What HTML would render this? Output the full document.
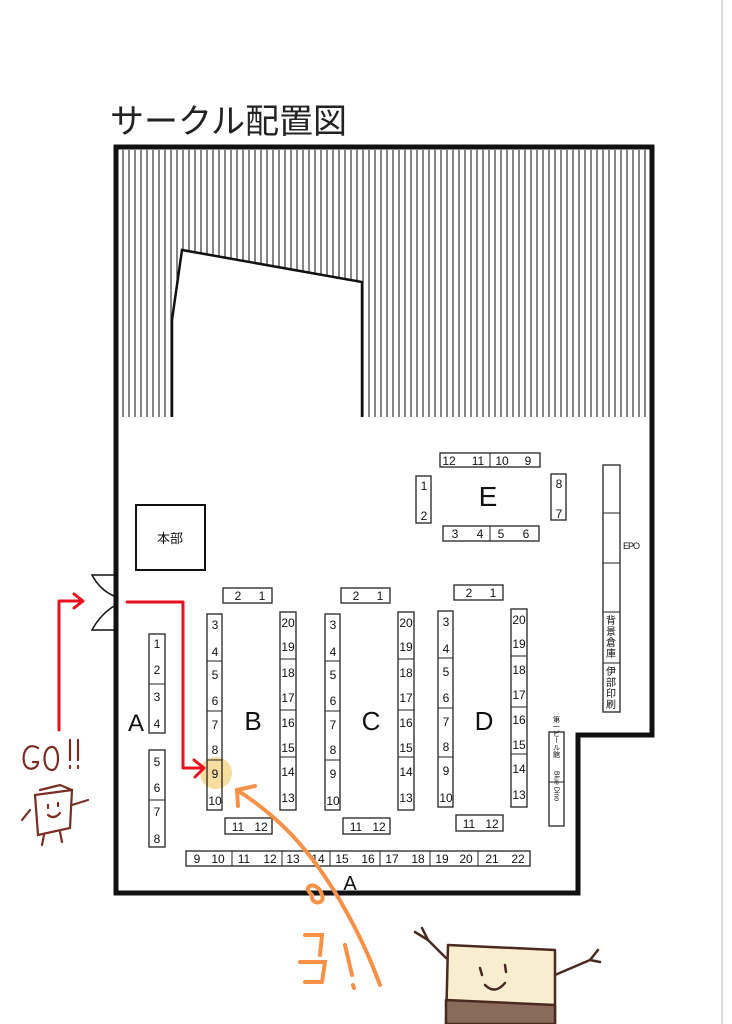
<!DOCTYPE html>
<html><head><meta charset="utf-8"><style>
html,body{margin:0;padding:0;background:#fff;width:732px;height:1024px;overflow:hidden}
svg{display:block}
text{font-family:"Liberation Sans","Noto Sans CJK JP",sans-serif;fill:#111}
.n{font-size:12px;text-anchor:middle}
.b{fill:#fff;stroke:#222;stroke-width:1.3}
</style></head><body>
<svg width="732" height="1024" viewBox="0 0 732 1024">
<defs>
<pattern id="h" width="6" height="10" patternUnits="userSpaceOnUse"><rect width="6" height="10" fill="#fff"/><line x1="3" y1="0" x2="3" y2="10" stroke="#333" stroke-width="1.2"/></pattern>
</defs>
<line x1="722" y1="0" x2="722" y2="1024" stroke="#ddd" stroke-width="2"/>
<text x="110" y="133" font-size="34" style="fill:#222">サークル配置図</text>
<path d="M118,150 H650 V417 H362 V282 L182,250 L172,320 V417 H118 Z" fill="url(#h)"/>
<path d="M172,417 V320 L182,250 L362,282 V417" fill="none" stroke="#111" stroke-width="2.5"/>
<path d="M116,147 H652 V735 H578 V893 H116 Z" fill="none" stroke="#111" stroke-width="5"/>
<path d="M114,575 H92 Q100,590 114,596 M114,630 H92 Q100,615 114,606" fill="none" stroke="#111" stroke-width="1.5"/>
<rect x="136" y="505" width="69" height="65" fill="#fff" stroke="#111" stroke-width="2"/>
<text x="170" y="543" font-size="13" text-anchor="middle">本部</text>
<rect class="b" x="440" y="453" width="100" height="14"/><line x1="490" y1="453" x2="490" y2="467" stroke="#222"/>
<text class="n" x="449" y="465">12</text><text class="n" x="478" y="465">11</text><text class="n" x="502" y="465">10</text><text class="n" x="528" y="465">9</text>
<rect class="b" x="416" y="476" width="15" height="47"/><text class="n" x="424" y="490">1</text><text class="n" x="424" y="520">2</text>
<rect class="b" x="551" y="474" width="15" height="46"/><text class="n" x="559" y="488">8</text><text class="n" x="559" y="518">7</text>
<rect class="b" x="443" y="526" width="96" height="15"/><line x1="490" y1="526" x2="490" y2="541" stroke="#222"/>
<text class="n" x="455" y="538">3</text><text class="n" x="480" y="538">4</text><text class="n" x="501" y="538">5</text><text class="n" x="526" y="538">6</text>
<text x="488" y="506" font-size="28" text-anchor="middle">E</text>
<rect class="b" x="603" y="465" width="17" height="247"/>
<path d="M603,513H620M603,563H620M603,612H620M603,663H620" stroke="#222"/>
<text x="623" y="549" font-size="9" style="letter-spacing:-1px">EPO</text>
<text x="611" y="624" font-size="10" text-anchor="middle"><tspan x="611" dy="0">背</tspan><tspan x="611" dy="11">景</tspan><tspan x="611" dy="11">倉</tspan><tspan x="611" dy="11">庫</tspan></text>
<text x="611" y="675" font-size="10" text-anchor="middle"><tspan x="611" dy="0">伊</tspan><tspan x="611" dy="11">部</tspan><tspan x="611" dy="11">印</tspan><tspan x="611" dy="11">刷</tspan></text>
<rect class="b" x="549" y="732" width="15" height="94"/><line x1="549" y1="782" x2="564" y2="782" stroke="#222"/>
<text x="556" y="737" font-size="7" text-anchor="middle" writing-mode="tb">第一ビール館</text>
<text x="556" y="786" font-size="7" text-anchor="middle" writing-mode="tb">Blue Dino</text>
<rect class="b" x="149" y="634" width="16" height="99"/><line x1="149" y1="684" x2="165" y2="684" stroke="#222"/>
<text class="n" x="157" y="648">1</text><text class="n" x="157" y="674">2</text><text class="n" x="157" y="701">3</text><text class="n" x="157" y="728">4</text>
<rect class="b" x="149" y="750" width="16" height="97"/><line x1="149" y1="800" x2="165" y2="800" stroke="#222"/>
<text class="n" x="157" y="766">5</text><text class="n" x="157" y="792">6</text><text class="n" x="157" y="816">7</text><text class="n" x="157" y="843">8</text>
<text x="136" y="731" font-size="24" text-anchor="middle">A</text>
<rect class="b" x="186" y="851" width="344" height="15"/>
<path d="M232,851V866M282,851V866M330,851V866M380,851V866M430,851V866M478,851V866" stroke="#222"/>
<text class="n" x="197" y="863">9</text><text class="n" x="218" y="863">10</text><text class="n" x="244" y="863">11</text><text class="n" x="270" y="863">12</text><text class="n" x="293" y="863">13</text><text class="n" x="318" y="863">14</text><text class="n" x="342" y="863">15</text><text class="n" x="368" y="863">16</text><text class="n" x="392" y="863">17</text><text class="n" x="418" y="863">18</text><text class="n" x="442" y="863">19</text><text class="n" x="466" y="863">20</text><text class="n" x="492" y="863">21</text><text class="n" x="518" y="863">22</text>
<text x="350" y="890" font-size="20" text-anchor="middle">A</text>
<circle cx="216" cy="773" r="16" fill="#f6d58a" opacity="0.8"/>
<g id="blk">
<rect class="b" x="207" y="614" width="15" height="196" fill-opacity="0"/>
<path d="M207,661H222M207,711H222M207,760H222" stroke="#222"/>
<text class="n" x="215" y="629">3</text><text class="n" x="215" y="656">4</text><text class="n" x="215" y="679">5</text><text class="n" x="215" y="705">6</text><text class="n" x="215" y="729">7</text><text class="n" x="215" y="754">8</text><text class="n" x="215" y="778">9</text><text class="n" x="215" y="805">10</text>
<rect class="b" x="280" y="612" width="16" height="198"/>
<path d="M280,659H296M280,710H296M280,757H296" stroke="#222"/>
<text class="n" x="288" y="627">20</text><text class="n" x="288" y="651">19</text><text class="n" x="288" y="677">18</text><text class="n" x="288" y="702">17</text><text class="n" x="288" y="727">16</text><text class="n" x="288" y="752">15</text><text class="n" x="288" y="776">14</text><text class="n" x="288" y="802">13</text>
<rect class="b" x="223" y="588" width="49" height="15"/><text class="n" x="238" y="600">2</text><text class="n" x="262" y="600">1</text>
<rect class="b" x="225" y="818" width="47" height="16"/><text class="n" x="238" y="831">11</text><text class="n" x="261" y="831">12</text>
</g>
<text x="253" y="730" font-size="26" text-anchor="middle">B</text>
<use href="#blk" x="118" y="0"/>
<text x="371" y="730" font-size="26" text-anchor="middle">C</text>
<use href="#blk" x="231" y="-3"/>
<text x="484" y="730" font-size="26" text-anchor="middle">D</text>
<g fill="none" stroke="#e8101e" stroke-width="3" stroke-linecap="round" stroke-linejoin="round">
<path d="M59,730 V601 H82 M74,594 L83,601 L74,608"/>
<path d="M127,602 H183 V768 H203 M194,760 L204,768 L195,777"/>
</g>
<g fill="none" stroke="#f79148" stroke-width="4" stroke-linecap="round">
<path d="M380,985 C360,930 330,880 305,850 C285,825 260,805 240,792"/>
<path d="M238,806 L237,790 L255,786"/>
<path d="M312,895 C300,885 318,880 322,895 C326,905 310,905 312,895"/>
<path d="M305,935 H322 L320,955 M300,962 H325 L322,982 M305,982 L322,982 M345,945 L352,975 M353,985 L354,988"/>
</g>
<g fill="none" stroke="#7a2e22" stroke-width="2.2" stroke-linecap="round">
<path d="M38,748 C28,742 22,752 24,762 C26,772 38,770 38,762 L33,762"/>
<path d="M52,747 C42,747 42,770 52,770 C60,770 60,747 52,747"/>
<path d="M70,740 L70,760 M70,766 L70,768 M78,740 L78,760 M78,766 L78,768"/>
<path d="M35,795 L38,835 L70,828 L72,790 Z M40,790 L60,785 L72,790 M30,810 L22,820 M72,805 L88,800 M44,835 L42,845 M60,832 L62,842"/>
<path d="M48,805 L48,808 M58,803 L58,806 M48,815 Q54,820 60,813"/>
</g>
<g stroke="#4a2a20" stroke-width="2.5" stroke-linecap="round" stroke-linejoin="round">
<path d="M448,945 L555,950 L555,1024 L446,1024 Z" fill="#f8eecf"/>
<path d="M446,1000 L555,1005 L555,1024 L446,1024 Z" fill="#8a6a5a"/>
<path d="M446,958 L428,940 M428,940 L415,932 M428,940 L422,928" fill="none"/>
<path d="M555,975 L590,960 M590,960 L598,950 M590,960 L600,962" fill="none"/>
<path d="M480,968 L482,975 M505,965 L506,972 M485,985 Q495,995 505,983" fill="none"/>
</g>
</svg>
</body></html>
